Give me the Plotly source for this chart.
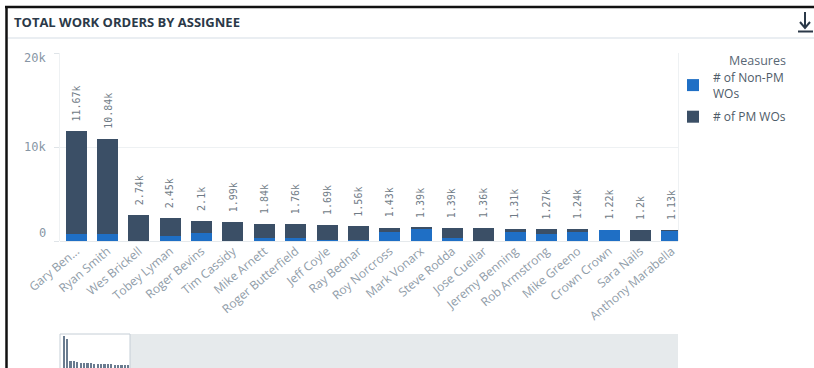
import plotly.graph_objects as go

# Work orders per assignee
assignees = [
    "Gary Ben...", "Ryan Smith", "Wes Brickell", "Tobey Lyman", "Roger Bevins",
    "Tim Cassidy", "Mike Arnett", "Roger Butterfield", "Jeff Coyle", "Ray Bednar",
    "Roy Norcross", "Mark Vonarx", "Steve Rodda", "Jose Cuellar", "Jeremy Benning",
    "Rob Armstrong", "Mike Greeno", "Crown Crown", "Sara Nails", "Anthony Marabella",
]
total_wos = [11670, 10840, 2740, 2450, 2100, 1990, 1840, 1760, 1690, 1560,
             1430, 1390, 1390, 1360, 1310, 1270, 1240, 1220, 1200, 1130]
non_pm_wos = [750, 750, 30, 480, 900, 40, 350, 350, 100, 100,
              1000, 1370, 360, 30, 960, 700, 980, 1220, 20, 1100]
pm_wos = [t - n for t, n in zip(total_wos, non_pm_wos)]

y_ticks = [0, 10000, 20000]
y_tick_text = ["0", "10k", "20k"]

W, H = 814, 368


def px(x):
    return x / W


def py(y):
    return 1 - y / H


BLUE = "#1f6fc5"
DARK = "#3b4f66"
MUTED = "#8796a5"

fig = go.Figure()
fig.add_trace(go.Bar(x=assignees, y=non_pm_wos, name="# of Non-PM<br>WOs", legendgroup="nonpm",
                     marker=dict(color=BLUE, line=dict(width=0)), hoverinfo="skip"))
fig.add_trace(go.Bar(x=assignees, y=pm_wos, name="# of PM WOs", legendgroup="pm",
                     marker=dict(color=DARK, line=dict(width=0)), hoverinfo="skip"))

# miniature overview inside the navigator window
fig.add_trace(go.Bar(x=list(range(len(total_wos))), y=total_wos, xaxis="x2", yaxis="y2",
                     marker=dict(color="#6a7c90", line=dict(width=0)), width=0.7,
                     showlegend=False, hoverinfo="skip"))

annotations = []
# total labels above each stack
for name, t in zip(assignees, total_wos):
    annotations.append(dict(
        x=name, y=t, xref="x", yref="y", text=f"{round(t / 1000, 2):g}k",
        textangle=-90, showarrow=False, yanchor="bottom", yshift=8,
        font=dict(family="DejaVu Sans Mono", size=10, color="#6f7b86")))

# y-axis labels
for v, lab, shift in zip(y_ticks, y_tick_text, [8, 0, -5]):
    annotations.append(dict(
        x=px(48), y=v, xref="paper", yref="y", text=lab, showarrow=False,
        xanchor="right", yanchor="middle", yshift=shift,
        font=dict(family="DejaVu Sans Mono", size=12, color=MUTED)))

# header title
annotations.append(dict(
    x=px(12), y=py(22), xref="paper", yref="paper", text="<b>TOTAL WORK ORDERS BY ASSIGNEE</b>",
    showarrow=False, xanchor="left", yanchor="middle",
    font=dict(family="Open Sans", size=13, color="#2b3948")))

# legend heading
annotations.append(dict(
    x=px(757), y=py(60), xref="paper", yref="paper", text="Measures",
    showarrow=False, xanchor="center", yanchor="middle",
    font=dict(family="Open Sans", size=12.5, color="#596775")))

shapes = [
    # panel frame edges
    dict(type="line", xref="paper", yref="paper", x0=px(6.5), x1=px(6.5), y0=py(6), y1=0,
         line=dict(color="#111111", width=2.5)),
    dict(type="line", xref="paper", yref="paper", x0=px(5), x1=1, y0=py(7), y1=py(7),
         line=dict(color="#111111", width=2.5)),
    # header separator
    dict(type="line", xref="paper", yref="paper", x0=px(8), x1=1, y0=py(38), y1=py(38),
         line=dict(color="#e3e9ee", width=1.5)),
    # download icon
    dict(type="line", xref="paper", yref="paper", x0=px(805), x1=px(805), y0=py(12), y1=py(27),
         line=dict(color="#2b3948", width=2)),
    dict(type="path", xref="paper", yref="paper",
         path=f"M {px(800)},{py(22)} L {px(805)},{py(28)} L {px(810)},{py(22)}",
         line=dict(color="#2b3948", width=2)),
    dict(type="line", xref="paper", yref="paper", x0=px(798), x1=px(813), y0=py(31.5), y1=py(31.5),
         line=dict(color="#2b3948", width=2)),
    # navigator track and window
    dict(type="rect", xref="paper", yref="paper", x0=px(130), x1=px(678), y0=py(334), y1=0,
         fillcolor="#e6eaec", line=dict(width=0), layer="below"),
    dict(type="rect", xref="paper", yref="paper", x0=px(60), x1=px(130), y0=py(334), y1=py(369),
         fillcolor="white", line=dict(color="#c5ced6", width=1), layer="below"),
]

fig.update_layout(
    width=W, height=H,
    margin=dict(l=0, r=0, t=0, b=0, autoexpand=False),
    paper_bgcolor="white", plot_bgcolor="rgba(0,0,0,0)",
    barmode="stack", bargap=0.33,
    showlegend=True,
    legend=dict(
        x=px(673), y=py(63), xanchor="left", yanchor="top",
        traceorder="grouped", tracegroupgap=5,
        font=dict(family="Open Sans", size=12, color="#4e5b68"),
        itemwidth=30, bgcolor="rgba(0,0,0,0)",
    ),
    xaxis=dict(
        domain=[px(60), px(678)], range=[-0.52, 19.2], automargin=False,
        tickangle=-40, ticks="", showgrid=False, showline=False, zeroline=False,
        tickfont=dict(family="Open Sans", size=12, color="#8f9ca8"),
    ),
    yaxis=dict(
        domain=[py(241), py(53)], range=[0, 20000], automargin=False,
        tickvals=y_ticks, showticklabels=False,
        ticks="outside", ticklen=5, tickcolor="#dfe4e8",
        showgrid=True, gridcolor="#eef1f3", gridwidth=1,
        zeroline=True, zerolinecolor="#e5e9ec", zerolinewidth=1,
        showline=True, mirror=True, linecolor="#eef1f3", linewidth=1,
    ),
    xaxis2=dict(domain=[px(62), px(130)], range=[-0.5, 19.5], visible=False,
                anchor="y2", automargin=False),
    yaxis2=dict(domain=[0, py(334)], range=[0, 12500], visible=False,
                anchor="x2", automargin=False),
    annotations=annotations,
    shapes=shapes,
)

fig.write_html("out.html")
